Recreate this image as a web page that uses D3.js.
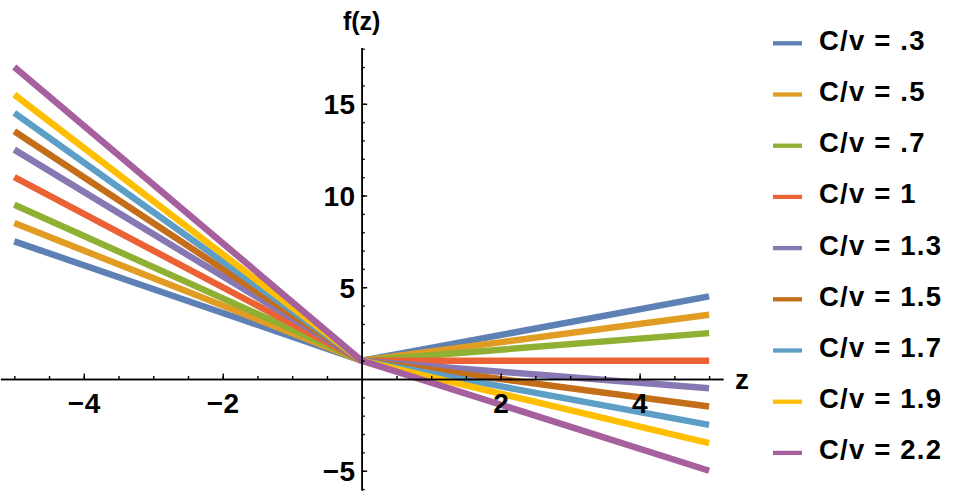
<!DOCTYPE html>
<html>
<head>
<meta charset="utf-8">
<script src="https://cdn.jsdelivr.net/npm/d3@7"></script>
<style>
  body { margin: 0; background: #fff; }
  text { font-family: "Liberation Sans", Arial, sans-serif; font-weight: bold; }
</style>
</head>
<body>
<div id="chart"></div>
<script>
// Values: f(z) at z = -5, 0 and 5 for each C/v
var cvLabels = ['.3', '.5', '.7', '1', '1.3', '1.5', '1.7', '1.9', '2.2'];
var zPoints = [-5, 0, 5];
var fLeft  = [7.5, 8.5, 9.5, 11, 12.5, 13.5, 14.5, 15.5, 17];
var fZero  = [1, 1, 1, 1, 1, 1, 1, 1, 1];
var fRight = [4.5, 3.5, 2.5, 1, -0.5, -1.5, -2.5, -3.5, -5];
var xMajor = [-4, -2, 2, 4];
var yMajor = [-5, 5, 10, 15];

var colors = ['#5E81B5', '#E19C24', '#8FB032', '#EB6235', '#8778B3',
              '#C56E1A', '#5D9EC7', '#FFBF00', '#A5609D'];

var width = 953, height = 496;

var svg = d3.select('#chart').append('svg')
  .attr('width', width)
  .attr('height', height);

var x = d3.scaleLinear().domain([-5.2, 5.2]).range([0.4, 723]);
var y = d3.scaleLinear().domain([-6.05, 18.05]).range([490, 47.8]);

var series = cvLabels.map(function(lab, i){
  return {
    label: 'C/v = ' + lab,
    color: colors[i],
    values: [fLeft[i], fZero[i], fRight[i]].map(function(v, j){ return {z: zPoints[j], f: v}; })
  };
});

// lines first, axes drawn on top
var line = d3.line().x(function(d){ return x(d.z); }).y(function(d){ return y(d.f); });

svg.append('g').attr('id', 'lines')
  .selectAll('path')
  .data(series)
  .enter().append('path')
    .attr('d', function(d){ return line(d.values); })
    .attr('fill', 'none')
    .attr('stroke', function(d){ return d.color; })
    .attr('stroke-width', 6.5)
    .attr('stroke-linejoin', 'round');

var fmt = d3.format('d');

// x axis: minor ticks then major ticks with labels
var xAxisG = svg.append('g').attr('transform', 'translate(0,' + y(0) + ')');
xAxisG.append('g')
  .call(d3.axisBottom(x).tickValues(d3.range(-5, 5.01, 0.5).filter(function(v){ return v !== 0; }))
    .tickSize(-3).tickSizeOuter(0).tickFormat(''));
xAxisG.append('g')
  .call(d3.axisBottom(x).tickValues(xMajor).tickSize(-5.5).tickSizeOuter(0)
    .tickPadding(14).tickFormat(fmt));

// y axis
var yAxisG = svg.append('g').attr('transform', 'translate(' + x(0) + ',0)');
yAxisG.append('g')
  .call(d3.axisLeft(y).tickValues(d3.range(-6, 18.5, 1).filter(function(v){ return v !== 0; }))
    .tickSize(-3).tickSizeOuter(0).tickFormat(''));
yAxisG.append('g')
  .call(d3.axisLeft(y).tickValues(yMajor).tickSize(-5.5).tickSizeOuter(0)
    .tickPadding(6).tickFormat(fmt));

svg.selectAll('.domain').attr('stroke', '#000').attr('stroke-width', 1.6);
svg.selectAll('.tick line').attr('stroke', '#000').attr('stroke-width', 1.4);
svg.selectAll('.tick text')
  .attr('font-size', 28)
  .attr('font-family', '"Liberation Sans", Arial, sans-serif')
  .attr('font-weight', 'bold')
  .attr('letter-spacing', 0.5)
  .attr('fill', '#000');
yAxisG.selectAll('.tick text').attr('dy', '0.36em');

// axis titles
svg.append('text')
  .attr('x', 735).attr('y', y(0) + 10)
  .attr('font-size', 28)
  .text('z');
svg.append('text')
  .attr('x', x(0)).attr('y', 30)
  .attr('text-anchor', 'middle')
  .attr('font-size', 25)
  .text('f(z)');

// legend
var legend = svg.append('g').attr('id', 'legend');
var rowY = function(i){ return 43.3 + i * 51.2; };
series.forEach(function(s, i){
  legend.append('line')
    .attr('x1', 773).attr('x2', 802)
    .attr('y1', rowY(i)).attr('y2', rowY(i))
    .attr('stroke', s.color)
    .attr('stroke-width', 4.3);
  legend.append('text')
    .attr('x', 819).attr('y', rowY(i) + 6.5)
    .attr('font-size', 27.5)
    .attr('letter-spacing', 1.2)
    .text(s.label);
});
</script>
</body>
</html>
